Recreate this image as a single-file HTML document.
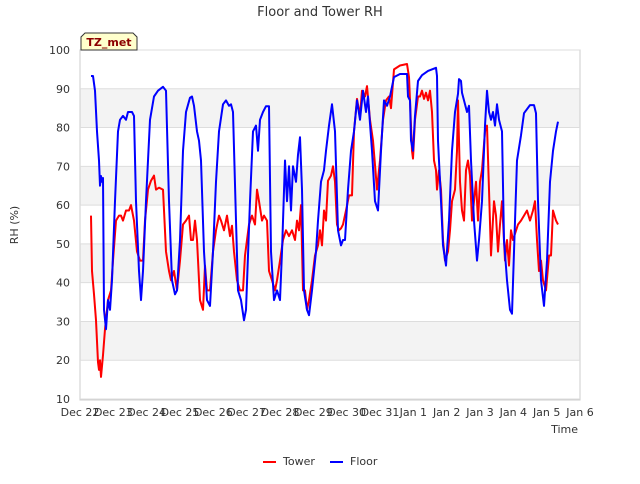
<!DOCTYPE html>
<html><head><meta charset="utf-8"><style>
body{margin:0;background:#fff;width:640px;height:480px;overflow:hidden;font-family:"DejaVu Sans","Liberation Sans",sans-serif}
</style></head><body>
<svg id="chart" width="640" height="480" xmlns="http://www.w3.org/2000/svg" font-family="DejaVu Sans, Liberation Sans, sans-serif">
<text x="320" y="16" text-anchor="middle" font-size="13" fill="#333">Floor and Tower RH</text>
<g id="bands"></g>
<rect x="80" y="50" width="500" height="350" fill="none" stroke="#ccc"/>
<g id="yaxis"></g>
<g id="xaxis"></g>
<text transform="translate(18,225) rotate(-90)" text-anchor="middle" font-size="11" fill="#333">RH (%)</text>
<text x="578" y="433" text-anchor="end" font-size="11" fill="#333">Time</text>
<g id="series"></g>
<g>
<path d="M81,50 L81,37 L85,33 L133,33 L137,37 L137,50 Z" fill="#ffffcc" stroke="#333" stroke-width="1"/>
<text x="109" y="46" text-anchor="middle" font-size="11" font-weight="bold" fill="#8b0000">TZ_met</text>
</g>
<g>
<g><line x1="263" y1="462" x2="276" y2="462" stroke="#f00" stroke-width="2"/><text x="283" y="465" font-size="11" fill="#333">Tower</text></g>
<g><line x1="330" y1="462" x2="343" y2="462" stroke="#00f" stroke-width="2"/><text x="350" y="465" font-size="11" fill="#333">Floor</text></g>
</g>
</svg>
<script>
const xTickLabels=["Dec 22","Dec 23","Dec 24","Dec 25","Dec 26","Dec 27","Dec 28","Dec 29","Dec 30","Dec 31","Jan 1","Jan 2","Jan 3","Jan 4","Jan 5","Jan 6"];
const yTicks=[10,20,30,40,50,60,70,80,90,100];
const floorDays=[0.33,0.39,0.45,0.51,0.57,0.60,0.63,0.66,0.69,0.72,0.78,0.84,0.90,0.96,1.05,1.14,1.20,1.29,1.38,1.44,1.56,1.62,1.68,1.77,1.83,1.89,1.98,2.10,2.22,2.34,2.49,2.58,2.67,2.76,2.85,2.91,3.00,3.09,3.18,3.30,3.36,3.42,3.51,3.57,3.63,3.72,3.81,3.90,3.99,4.08,4.17,4.29,4.38,4.47,4.53,4.59,4.68,4.74,4.83,4.92,4.98,5.10,5.19,5.28,5.34,5.40,5.49,5.58,5.67,5.73,5.82,5.91,6.00,6.06,6.15,6.21,6.27,6.33,6.39,6.48,6.54,6.60,6.66,6.72,6.81,6.87,6.96,7.08,7.14,7.23,7.32,7.38,7.47,7.56,7.65,7.74,7.83,7.89,7.95,8.04,8.13,8.22,8.31,8.40,8.49,8.58,8.64,8.76,8.85,8.94,9.03,9.12,9.21,9.30,9.42,9.60,9.81,9.84,9.90,9.93,9.99,10.05,10.14,10.26,10.44,10.68,10.71,10.74,10.83,10.89,10.98,11.07,11.16,11.25,11.34,11.37,11.43,11.46,11.52,11.61,11.67,11.73,11.82,11.91,11.97,12.06,12.15,12.21,12.27,12.33,12.39,12.45,12.51,12.57,12.66,12.72,12.81,12.90,12.96,13.02,13.11,13.23,13.32,13.50,13.62,13.68,13.74,13.83,13.92,14.01,14.10,14.19,14.28,14.34];
const floorValues=[93.3,93.3,89.5,79,71.5,65,67.5,66,67,33,28,35.5,33,40.6,61,79,82,83,82,84,84,83,61,43,35.5,43,61,82,88,89.5,90.5,89.5,61,40.6,37,38,51,74,84,87.7,88,85.6,79,76.6,71.5,48,35.5,34,48,66,79,86,87,85.6,86,84,56,38,35.5,30.3,33,61,79,80.5,74,82,84,85.5,85.5,48,35.5,38,35.5,48,71.5,61,70,58.6,70,66,73,77.5,64,38,33,31.6,38,48,56,66,69,74,80.5,86,79,53.5,49.6,51,51,64,74,79,87,82,89.5,84,88,74,61,58.6,74,87,85.6,88,93,93.8,93.8,88,87,76.6,74,83,92,93.5,94.6,95.4,93.3,76.6,61,49.6,44.4,56,74,84,88.7,92.5,92,89,87,84,85.6,71.5,56,45.7,51,61,80.5,89.5,84,82,84,80.5,86,82,79,51,40.6,33,32,48,71.5,78,83.7,85.8,85.8,83.7,61,40.6,34,45.7,66,74,79,81.5];
const towerDays=[0.33,0.36,0.42,0.48,0.54,0.57,0.60,0.63,0.69,0.75,0.84,0.93,0.99,1.08,1.17,1.23,1.29,1.38,1.47,1.53,1.62,1.71,1.80,1.89,1.95,2.04,2.13,2.22,2.28,2.37,2.49,2.58,2.67,2.73,2.82,2.91,3.00,3.09,3.18,3.27,3.33,3.39,3.45,3.51,3.60,3.69,3.75,3.81,3.90,3.99,4.08,4.17,4.23,4.32,4.41,4.50,4.56,4.62,4.71,4.80,4.89,4.95,5.07,5.16,5.25,5.31,5.37,5.46,5.52,5.61,5.67,5.76,5.85,5.91,6.00,6.09,6.18,6.27,6.36,6.45,6.51,6.57,6.63,6.69,6.75,6.81,6.87,6.96,7.05,7.14,7.20,7.26,7.32,7.38,7.44,7.53,7.59,7.65,7.71,7.77,7.83,7.89,7.98,8.07,8.16,8.22,8.31,8.40,8.46,8.55,8.61,8.70,8.79,8.91,9.00,9.09,9.18,9.27,9.33,9.42,9.60,9.81,9.87,9.90,9.96,9.99,10.05,10.14,10.20,10.26,10.32,10.38,10.44,10.50,10.56,10.62,10.68,10.71,10.77,10.83,10.89,10.95,11.04,11.10,11.16,11.25,11.31,11.34,11.40,11.46,11.52,11.58,11.64,11.70,11.76,11.82,11.88,11.94,12.00,12.06,12.15,12.21,12.27,12.33,12.42,12.48,12.54,12.60,12.66,12.75,12.81,12.87,12.93,12.99,13.14,13.23,13.32,13.41,13.50,13.59,13.65,13.71,13.77,13.83,13.89,13.98,14.07,14.13,14.19,14.28,14.34];
const towerValues=[57.3,43,37,30.3,19.5,17.5,20,15.7,21.3,28,35.5,38,45.7,56,57.3,57.3,56,58.6,58.6,60,56,48,45.7,45.7,56,64,66.3,67.6,64,64.5,64,48,43,40.6,43,38,45.7,55,56,57.3,51,51,56,51,35.5,33,44.4,38,38,48,53.5,57.3,56,53.5,57.3,52,54.7,48,40.6,38,38,47,55,57.3,55,64,61,56,57.3,56,43,40.6,38,40.6,45.7,51,53.5,52,53.5,51,56,53.5,60,38,38,33,35.5,40.6,47,49.6,53.5,49.6,58.6,56,66.3,67.6,70,66,55,53.5,54,55,58.6,62.5,62.5,79,87.4,83,89.5,88,90.7,82,76.6,64,71.5,82,87,88,85,95,96,96.4,93,87,74,72,82,88,88,89.5,87.4,89,87,89.5,84,71.5,69,64,69,64,51,45.7,48,53.5,61,64,74,87,66,58.6,56,69,71.5,67.6,56,61,66,56,66,69,79,80.5,64,47,61,57.3,48,55,61,45.7,51,44.4,53.5,51,55,56,57.3,58.6,56,58.6,61,51,43,45.7,40.6,38,47,47,58.6,56,55,54.7];

const X0=80,X1=580,Y0=399,Y1=50;
function xScale(d){return X0+(X1-X0)*d/15;}
function yScale(v){return Y0-(Y0-Y1)*(v-10)/90;}
const NS="http://www.w3.org/2000/svg";
function mk(tag,attrs,parent){const e=document.createElementNS(NS,tag);for(const k in attrs)e.setAttribute(k,attrs[k]);parent.appendChild(e);return e;}
const bands=document.getElementById('bands');
for(let i=0;i<yTicks.length-1;i++){
  const lo=yTicks[i],hi=yTicks[i+1];
  if(i%2===1){const r=mk('rect',{x:X0,y:yScale(hi),width:X1-X0,height:yScale(lo)-yScale(hi),fill:'#f3f3f3'},bands);
  
  }
}
const ya=document.getElementById('yaxis');
yTicks.forEach(v=>{
  const l=mk('line',{x1:X0,x2:X1,y1:yScale(v),y2:yScale(v),stroke:'#ddd'},ya);
  
  
  const t=mk('text',{x:X0-10,y:yScale(v)+4,'text-anchor':'end','font-size':'11',fill:'#333'},ya);
  t.textContent=v;
  
  
});
const xa=document.getElementById('xaxis');
xTickLabels.forEach((s,i)=>{
  const t=mk('text',{x:xScale(i),y:416,'text-anchor':'middle','font-size':'11',fill:'#333'},xa);
  t.textContent=s;
  
  
});
const sg=document.getElementById('series');
function line(days,vals,color,name){
  const pts=days.map((d,i)=>xScale(d).toFixed(1)+','+yScale(vals[i]).toFixed(1)).join(' ');
  const p=mk('polyline',{points:pts,fill:'none',stroke:color,'stroke-width':'2','stroke-linejoin':'round'},sg);
  
  
}
line(towerDays,towerValues,'#f00','tower-line');
line(floorDays,floorValues,'#00f','floor-line');
</script>
</body></html>
